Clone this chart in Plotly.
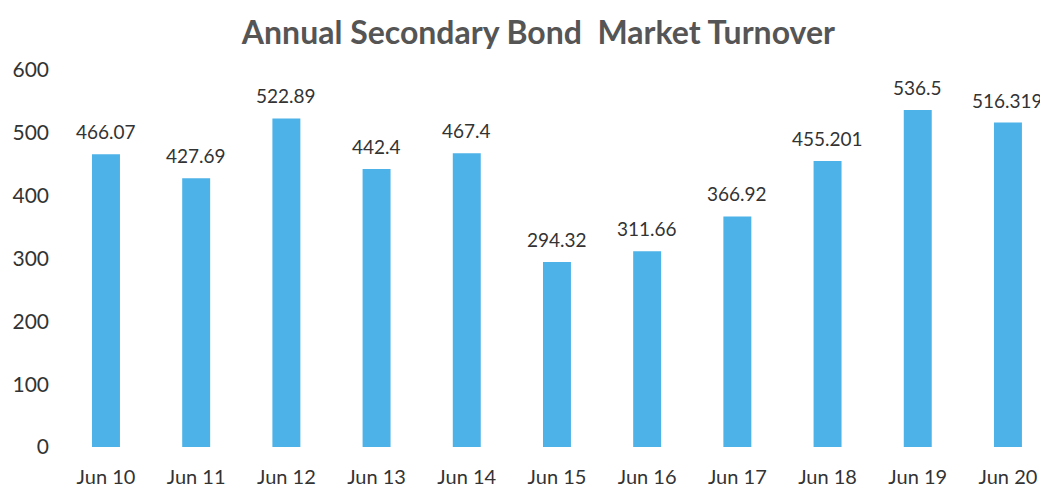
import plotly.graph_objects as go

categories = ["Jun 10", "Jun 11", "Jun 12", "Jun 13", "Jun 14", "Jun 15",
              "Jun 16", "Jun 17", "Jun 18", "Jun 19", "Jun 20"]
turnover = [466.07, 427.69, 522.89, 442.4, 467.4, 294.32, 311.66, 366.92,
            455.201, 536.5, 516.319]
labels = ["466.07", "427.69", "522.89", "442.4", "467.4", "294.32", "311.66",
          "366.92", "455.201", "536.5", "516.319"]

FONT = "Lato, Open Sans, sans-serif"

fig = go.Figure(go.Bar(
    x=categories, y=turnover, width=0.31,
    marker=dict(color="#4db2e8", line=dict(width=0)),
    hoverinfo="x+y",
))
for c, v, t in zip(categories, turnover, labels):
    fig.add_annotation(x=c, y=v, text=t, showarrow=False, yanchor="bottom", yshift=9,
                       font=dict(family=FONT, size=19, color="#333333"))

# page body has an 8px margin, so the figure is sized 8px smaller each way
fig.update_layout(
    width=1040, height=496,
    paper_bgcolor="white", plot_bgcolor="white",
    margin=dict(l=50, r=0, t=62, b=57),
    showlegend=False,
    title=dict(text="Annual Secondary Bond  Market Turnover", x=0.51, xanchor="center",
               y=0.95, yanchor="middle",
               font=dict(family=FONT, size=32, color="#555555", weight="bold")),
    font=dict(family=FONT, color="#333333"),
)
fig.update_yaxes(range=[0, 600], dtick=100, showgrid=False, zeroline=False,
                 showline=False, ticks="", tickfont=dict(size=21), ticklabelstandoff=8)
fig.update_xaxes(range=[-0.532, 10.444], showgrid=False, showline=False, ticks="",
                 tickfont=dict(size=20), ticklabelstandoff=16)
fig.write_html("out.html")
